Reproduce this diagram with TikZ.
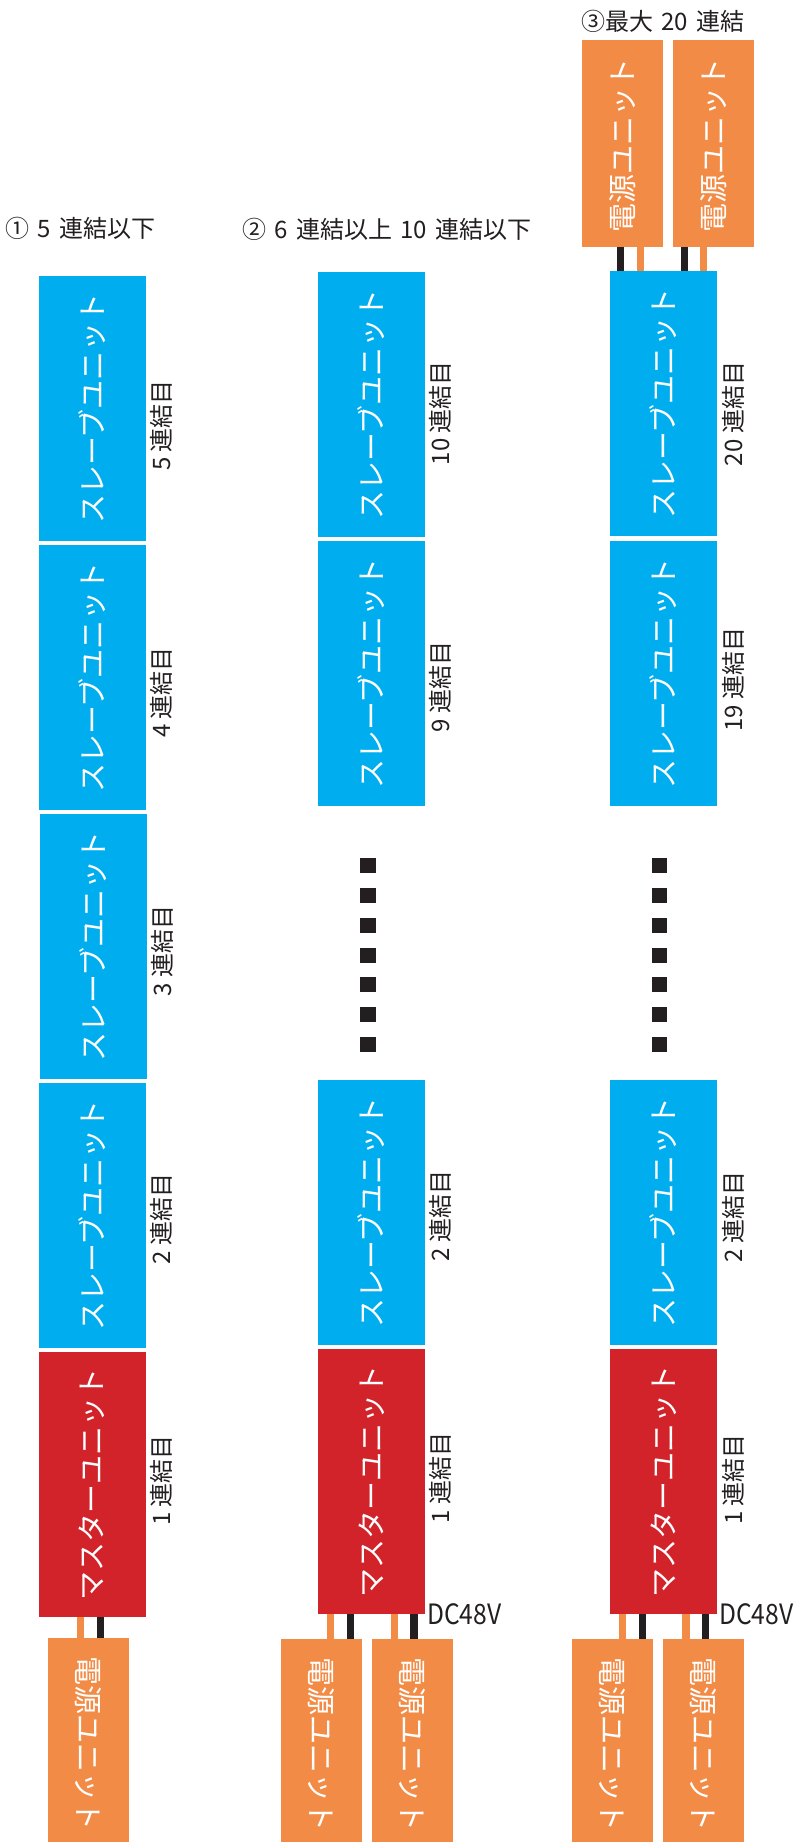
\documentclass[tikz,border=0pt]{standalone}
\usepackage{fontspec}
\setmainfont{Noto Sans CJK JP}
\definecolor{ublue}{HTML}{00AEEF}
\definecolor{ured}{HTML}{D2232A}
\definecolor{uorange}{HTML}{F28B45}
\definecolor{uink}{HTML}{231F20}
\newcommand\tsp{\hspace{8.3pt}}
\begin{document}
\begin{tikzpicture}[x=1pt,y=-1pt,
  unitbox/.style={rectangle, inner sep=0pt, outer sep=0pt, minimum width=107pt, minimum height=265pt, anchor=north west},
  slavebox/.style={unitbox, fill=ublue},
  masterbox/.style={unitbox, fill=ured},
  psu/.style={rectangle, inner sep=0pt, outer sep=0pt, minimum width=81pt, minimum height=207pt, anchor=north west, fill=uorange},
  utext/.style={text=white, font=\fontsize{29}{30}\selectfont, inner sep=0pt},
  lab/.style={text=uink, font=\fontsize{24}{26}\selectfont, inner sep=0pt, rotate=90},
  ttl/.style={text=uink, font=\fontsize{24}{26}\selectfont, inner sep=0pt, anchor=base west},
  dc/.style={text=uink, font=\fontsize{28}{30}\selectfont, inner sep=0pt, anchor=base west},
  owire/.style={draw=uorange, line width=7.3pt},
  kwire/.style={draw=uink, line width=7.3pt},
  dotsq/.style={rectangle, fill=uink, minimum width=15.7pt, minimum height=15pt, inner sep=0pt}
]
\useasboundingbox[fill=white] (0,0) rectangle (794,1842);
\begin{scope}
\clip (0,0) rectangle (794,1842);

% titles
\node[ttl] (t1) at (5.5,237.5) {①\tsp 5\tsp 連結以下};
\node[ttl] (t2) at (242,238) {②\tsp 6\tsp 連結以上\tsp 10\tsp 連結以下};
\node[ttl] (t3) at (581,30) {③最大\tsp 20\tsp 連結};

% column 1
\node[slavebox] (c1b5) at (38.5,276) {};
\node[slavebox] (c1b4) at (38.5,545) {};
\node[slavebox] (c1b3) at (39.5,814) {};
\node[slavebox] (c1b2) at (38.5,1083) {};
\node[masterbox] (c1m) at (38.5,1352) {};
\foreach \n in {c1b5,c1b4,c1b3,c1b2}
  \node[utext, rotate=90] (\n t) at (\n.center) {スレーブユニット};
\node[utext, rotate=90] (c1mt) at (c1m.center) {マスターユニット};
\node[lab] (c1l5) at (161.8,425.5) {5 連結目};
\node[lab] (c1l4) at (161.8,692.5) {4 連結目};
\node[lab] (c1l3) at (162.5,951.3) {3 連結目};
\node[lab] (c1l2) at (161.8,1219) {2 連結目};
\node[lab] (c1l1) at (161.8,1480.5) {1 連結目};
\node[psu] (c1p) at (47.7,1638) {};
\node[utext, rotate=-90] (c1pt) at ([yshift=-2pt]c1p.center) {電源ユニット};
\draw[owire] ([xshift=42.3pt]c1m.south west) -- ([xshift=42.3pt]c1m.south west |- c1p.north);
\draw[kwire] ([xshift=62pt]c1m.south west) -- ([xshift=62pt]c1m.south west |- c1p.north);

% column 2
\node[slavebox] (c2b10) at (318,272) {};
\node[slavebox] (c2b9) at (318,541) {};
\node[slavebox] (c2b2) at (318,1080) {};
\node[masterbox] (c2m) at (318,1349) {};
\foreach \n in {c2b10,c2b9,c2b2}
  \node[utext, rotate=90] (\n t) at (\n.center) {スレーブユニット};
\node[utext, rotate=90] (c2mt) at (c2m.center) {マスターユニット};
\node[lab] (c2l10) at (440.8,413.3) {10 連結目};
\node[lab] (c2l9) at (440.8,687.2) {9 連結目};
\node[lab] (c2l2) at (440.8,1216.3) {2 連結目};
\node[lab] (c2l1) at (440.8,1478.3) {1 連結目};
\foreach \k in {0,...,6}
  \node[dotsq] (c2d\k) at (367.9,865.8+29.73*\k) {};
\node[psu] (c2pa) at (281,1639) {};
\node[psu] (c2pb) at (371.7,1639) {};
\node[utext, rotate=-90] (c2pat) at ([yshift=-2pt]c2pa.center) {電源ユニット};
\node[utext, rotate=-90] (c2pbt) at ([yshift=-2pt]c2pb.center) {電源ユニット};
\draw[owire] ([xshift=12.7pt]c2m.south west) -- ([xshift=12.7pt]c2m.south west |- c2pa.north);
\draw[kwire] ([xshift=32.6pt]c2m.south west) -- ([xshift=32.6pt]c2m.south west |- c2pa.north);
\draw[owire] ([xshift=76.2pt]c2m.south west) -- ([xshift=76.2pt]c2m.south west |- c2pb.north);
\draw[kwire] ([xshift=96pt]c2m.south west) -- ([xshift=96pt]c2m.south west |- c2pb.north);
\node[dc] (c2dc) at (427,1624.3) {\scalebox{0.88}[1]{DC48V}};

% column 3
\node[psu] (c3ta) at (582,40) {};
\node[psu] (c3tb) at (672.7,40) {};
\node[utext, rotate=90] (c3tat) at ([yshift=-1.5pt]c3ta.center) {電源ユニット};
\node[utext, rotate=90] (c3tbt) at ([yshift=-1.5pt]c3tb.center) {電源ユニット};
\node[slavebox] (c3b20) at (610,271) {};
\node[slavebox] (c3b19) at (610,541) {};
\node[slavebox] (c3b2) at (610,1080) {};
\node[masterbox] (c3m) at (610,1349) {};
\foreach \n in {c3b20,c3b19,c3b2}
  \node[utext, rotate=90] (\n t) at (\n.center) {スレーブユニット};
\node[utext, rotate=90] (c3mt) at (c3m.center) {マスターユニット};
\node[lab] (c3l20) at (732.9,414) {20 連結目};
\node[lab] (c3l19) at (732.9,679.7) {19 連結目};
\node[lab] (c3l2) at (732.9,1217) {2 連結目};
\node[lab] (c3l1) at (732.9,1479.4) {1 連結目};
\foreach \k in {0,...,6}
  \node[dotsq] (c3d\k) at (659.5,865.8+29.73*\k) {};
\draw[kwire] ([xshift=10.8pt]c3b20.north west) -- ([xshift=10.8pt]c3b20.north west |- c3ta.south);
\draw[owire] ([xshift=30.8pt]c3b20.north west) -- ([xshift=30.8pt]c3b20.north west |- c3ta.south);
\draw[kwire] ([xshift=74.2pt]c3b20.north west) -- ([xshift=74.2pt]c3b20.north west |- c3tb.south);
\draw[owire] ([xshift=93.7pt]c3b20.north west) -- ([xshift=93.7pt]c3b20.north west |- c3tb.south);
\node[psu] (c3pa) at (572.3,1639) {};
\node[psu] (c3pb) at (663,1639) {};
\node[utext, rotate=-90] (c3pat) at ([yshift=-2pt]c3pa.center) {電源ユニット};
\node[utext, rotate=-90] (c3pbt) at ([yshift=-2pt]c3pb.center) {電源ユニット};
\draw[owire] ([xshift=12.4pt]c3m.south west) -- ([xshift=12.4pt]c3m.south west |- c3pa.north);
\draw[kwire] ([xshift=32.2pt]c3m.south west) -- ([xshift=32.2pt]c3m.south west |- c3pa.north);
\draw[owire] ([xshift=76pt]c3m.south west) -- ([xshift=76pt]c3m.south west |- c3pb.north);
\draw[kwire] ([xshift=95.7pt]c3m.south west) -- ([xshift=95.7pt]c3m.south west |- c3pb.north);
\node[dc] (c3dc) at (719,1624.3) {\scalebox{0.88}[1]{DC48V}};
\end{scope}
\end{tikzpicture}
\end{document}
